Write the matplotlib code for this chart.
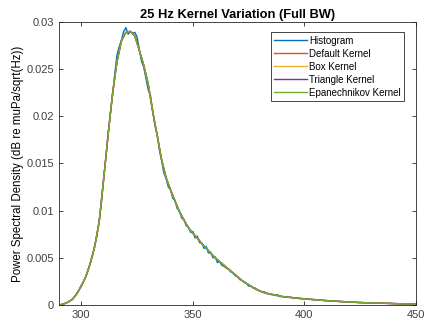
import numpy as np
import matplotlib
matplotlib.use("Agg")
import matplotlib.pyplot as plt

plt.rcParams["font.family"] = ["Liberation Sans", "DejaVu Sans"]

# histogram estimate, 1 Hz bins
hist_x = np.arange(290, 451, 1)
hist_pdf = [
    0.0000, 0.00003, 0.0001, 0.0002, 0.0003, 0.00046, 0.0006, 0.0009, 0.0012, 0.0016,
    0.0021, 0.0025, 0.0030, 0.0036, 0.0045, 0.0052, 0.0063, 0.0073, 0.0089, 0.0108,
    0.0134, 0.0156, 0.0181, 0.0203, 0.0222, 0.0245, 0.0265, 0.0274, 0.0281, 0.0290,
    0.0294, 0.0287, 0.0290, 0.0288, 0.0289, 0.0284, 0.0271, 0.0258, 0.0252, 0.0240,
    0.0228, 0.0222, 0.0206, 0.0190, 0.0181, 0.0164, 0.0153, 0.0140, 0.0134, 0.0125,
    0.0122, 0.0113, 0.0111, 0.0102, 0.0100, 0.0092, 0.0091, 0.0084, 0.0083, 0.0077,
    0.0078, 0.0071, 0.0073, 0.0066, 0.0066, 0.0060, 0.0062, 0.0055, 0.0056, 0.0050,
    0.0051, 0.0045, 0.0046, 0.0042, 0.0041, 0.0039, 0.0038, 0.0035, 0.0034, 0.0031,
    0.0030, 0.0027, 0.0026, 0.0024, 0.0023, 0.0020, 0.0020, 0.0018, 0.0018, 0.0016,
    0.0015, 0.0014, 0.0014, 0.0012, 0.0012, 0.0011, 0.0011, 0.0010, 0.0011, 0.0009,
    0.0009, 0.00085, 0.0009, 0.0008, 0.0008, 0.00072, 0.00078, 0.0007, 0.00068, 0.00066,
    0.00064, 0.00068, 0.0006, 0.00058, 0.00056, 0.00058, 0.00052, 0.00052, 0.0005, 0.00046,
    0.00048, 0.00044, 0.00043, 0.00044, 0.0004, 0.00039, 0.00036, 0.0004, 0.00034, 0.00034,
    0.00031, 0.00032, 0.00029, 0.00031, 0.00027, 0.00026, 0.00027, 0.00024, 0.00025, 0.00022,
    0.00024, 0.00021, 0.00022, 0.00019, 0.00021, 0.00019, 0.00017, 0.00019, 0.00016, 0.00017,
    0.00015, 0.00016, 0.00013, 0.00015, 0.00012, 0.00013, 0.00011, 0.00012, 0.0001, 0.00011,
    0.0001,
]

# kernel density estimates, 2 Hz grid
kernel_x = np.arange(290, 451, 2)
kernel_pdf = [
    0.0000, 0.0001, 0.0003, 0.0006, 0.0012, 0.0020, 0.0030, 0.0044, 0.0062, 0.0088,
    0.0133, 0.0180, 0.0224, 0.0258, 0.0280, 0.0289, 0.0290, 0.0285, 0.0270, 0.0254,
    0.0234, 0.0205, 0.0180, 0.0154, 0.0135, 0.0122, 0.0110, 0.0099, 0.0090, 0.0082,
    0.0076, 0.0071, 0.0065, 0.0060, 0.0055, 0.0050, 0.0046, 0.0042, 0.0038, 0.0034,
    0.0030, 0.0026, 0.0023, 0.0020, 0.0017, 0.0015, 0.0013, 0.0012, 0.0011, 0.0010,
    0.0009, 0.00085, 0.0008, 0.00075, 0.0007, 0.00066, 0.00062, 0.00058, 0.00054, 0.0005,
    0.00046, 0.00043, 0.0004, 0.00037, 0.00034, 0.00031, 0.00029, 0.00027, 0.00025, 0.00024,
    0.00023, 0.00021, 0.0002, 0.00018, 0.00017, 0.00015, 0.00014, 0.00012, 0.00011, 0.0001,
    0.0001,
]
kernel_names = ["Default Kernel", "Box Kernel", "Triangle Kernel", "Epanechnikov Kernel"]
kernel_colors = ["#D95319", "#EDB120", "#7E2F8E", "#77AC30"]

fig = plt.figure(figsize=(4.29, 3.28), dpi=100)
ax = fig.add_axes([0.1375, 0.0701, 0.8322, 0.8629])

ax.plot(hist_x, hist_pdf, color="#0072BD", lw=1.0, label="Histogram")
for name, col in zip(kernel_names, kernel_colors):
    ax.plot(kernel_x, kernel_pdf, color=col, lw=1.0, label=name)

ax.set_xlim(290, 450)
ax.set_ylim(0, 0.03)
ax.set_xticks([300, 350, 400, 450])
ax.set_yticks([0, 0.005, 0.01, 0.015, 0.02, 0.025, 0.03])
ax.set_yticklabels(["0", "0.005", "0.01", "0.015", "0.02", "0.025", "0.03"])
ax.tick_params(direction="in", top=True, right=True, length=3, width=0.6,
               labelsize=8, colors="#262626", labelcolor="#404040")
for s in ax.spines.values():
    s.set_linewidth(0.6)
    s.set_color("#262626")

ax.set_title("25 Hz Kernel Variation (Full BW)", fontsize=9.3, fontweight="bold", pad=3)
ax.set_ylabel("Power Spectral Density (dB re muPa/sqrt(Hz))", fontsize=8.3, labelpad=2)

leg = ax.legend(loc="upper right", fontsize=7.0, handlelength=3.3, handletextpad=0.25,
                labelspacing=0.3, borderpad=0.35, fancybox=False, framealpha=1,
                bbox_to_anchor=(0.98, 0.98))
leg.get_frame().set_edgecolor("#262626")
leg.get_frame().set_linewidth(0.6)

fig.savefig("out.png", dpi=100)
